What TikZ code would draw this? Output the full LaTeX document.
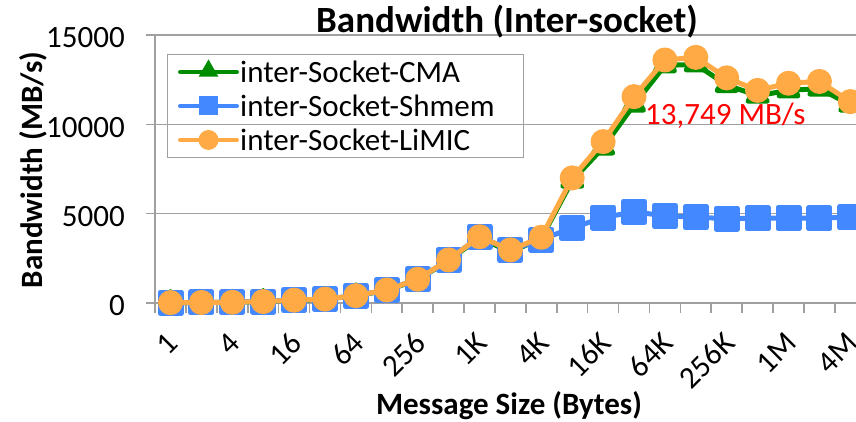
\documentclass[tikz,border=0pt]{standalone}
\usepackage{fontspec}
\setmainfont{Carlito}
\usetikzlibrary{positioning,calc,shapes.geometric,plotmarks}
\definecolor{cmagreen}{RGB}{0,140,0}
\definecolor{shmemblue}{RGB}{68,136,255}
\definecolor{limicorange}{RGB}{255,170,68}
\definecolor{axisgray}{RGB}{160,160,160}

\begin{document}
\begin{tikzpicture}[x=1pt,y=1pt,font=\fontsize{31}{37}\selectfont]
	\tikzstyle{axisline}=[draw=axisgray, line width=1.6pt]
	\tikzstyle{lbl}=[inner sep=0pt]
	\tikzstyle{ticklbl}=[inner sep=0pt, anchor=east]
	\tikzstyle{xlbl}=[inner sep=0pt, anchor=east, rotate=45]
	\tikzstyle{axtitle}=[inner sep=0pt, font=\fontsize{31}{37}\selectfont\bfseries]
	\tikzstyle{series}=[line width=5pt, line join=round]
	\tikzstyle{legline}=[line width=4pt, line cap=round]

	\useasboundingbox (0,0) rectangle (856,422);

	% grid and axes
	\foreach \v/\t in {0/0,5/5000,10/10000,15/15000} {
		\draw[axisline] (146,119+17.867*\v) -- (856,119+17.867*\v);
		\node[ticklbl] (ytick\v) at (125,116+17.867*\v) {\t};
	}
	\draw[axisline] (155,109) -- (155,387);
	\foreach \k in {1,...,22}
		\draw[axisline] (155+30.9*\k,109) -- (155+30.9*\k,119);
	\foreach \i/\t in {0/1,2/4,4/16,6/64,8/256,10/1K,12/4K,14/16K,16/64K,18/256K,20/1M,22/4M}
		\node[xlbl] (xtick\i) at (173+30.9*\i,84) {\t};

	\node[axtitle, anchor=base, font=\fontsize{37}{44}\selectfont\bfseries] (title) at (507,389) {Bandwidth (Inter-socket)};
	\node[axtitle, anchor=base, rotate=90] (ylabel) at (43,252) {Bandwidth (MB/s)};
	\node[axtitle, anchor=base] (xlabel) at (509,7) {Message Size (Bytes)};

	% data
	\begin{scope}[shift={(170.5pt,119pt)}, x=30.9pt, y=17.867pt]
		\draw[series, cmagreen] plot[mark=triangle*, mark size=11pt, mark options={draw=none, fill=cmagreen}] coordinates {(0,0.02) (1,0.03) (2,0.04) (3,0.08) (4,0.15) (5,0.21) (6,0.40) (7,0.71) (8,1.30) (9,2.38) (10,3.65) (11,2.85) (12,3.62) (13,6.85) (14,8.7) (15,11.1) (16,13.3) (17,13.35) (18,12.2) (19,11.6) (20,11.9) (21,12.0) (22,11.1)};
		\draw[series, shmemblue] plot[mark=square*, mark size=10.5pt, mark options={draw=none, fill=shmemblue}] coordinates {(0,0.02) (1,0.03) (2,0.04) (3,0.08) (4,0.16) (5,0.22) (6,0.41) (7,0.73) (8,1.33) (9,2.41) (10,3.71) (11,2.97) (12,3.55) (13,4.2) (14,4.78) (15,5.1) (16,4.88) (17,4.8) (18,4.72) (19,4.74) (20,4.75) (21,4.75) (22,4.8)};
		\draw[series, limicorange] plot[mark=*, mark size=10pt, mark options={draw=none, fill=limicorange}] coordinates {(0,0.02) (1,0.03) (2,0.04) (3,0.08) (4,0.16) (5,0.22) (6,0.41) (7,0.73) (8,1.33) (9,2.41) (10,3.71) (11,2.97) (12,3.68) (13,7.0) (14,9.03) (15,11.55) (16,13.6) (17,13.749) (18,12.6) (19,11.9) (20,12.3) (21,12.4) (22,11.27)};
	\end{scope}

	\node[lbl, anchor=base west, text=red] (peak) at (645,297) {13,749 MB/s};

	% legend
	\node[draw=axisgray, line width=1.5pt, minimum width=356pt, minimum height=103pt, inner sep=0pt, anchor=north west] (legend) at (166.7,368) {};
	\node[lbl, anchor=base west] (legcma) at (240,339) {inter-Socket-CMA};
	\node[lbl, anchor=base west] (legshmem) at (240,305) {inter-Socket-Shmem};
	\node[lbl, anchor=base west] (leglimic) at (240,271) {inter-Socket-LiMIC};
	\foreach \n/\y/\c in {cma/350/cmagreen,shmem/316/shmemblue,limic/282/limicorange} {
		\coordinate (\n a) at (180,\y);
		\coordinate (\n b) at (237,\y);
		\draw[legline, \c] (\n a) -- (\n b);
	}
	\node[regular polygon, regular polygon sides=3, fill=cmagreen, inner sep=0pt, minimum size=23pt, yshift=1pt] (markcma) at ($(cmaa)!0.5!(cmab)$) {};
	\node[rectangle, fill=shmemblue, inner sep=0pt, minimum size=19pt] (markshmem) at ($(shmema)!0.5!(shmemb)$) {};
	\node[circle, fill=limicorange, inner sep=0pt, minimum size=20pt] (marklimic) at ($(limica)!0.5!(limicb)$) {};
\end{tikzpicture}
\end{document}
